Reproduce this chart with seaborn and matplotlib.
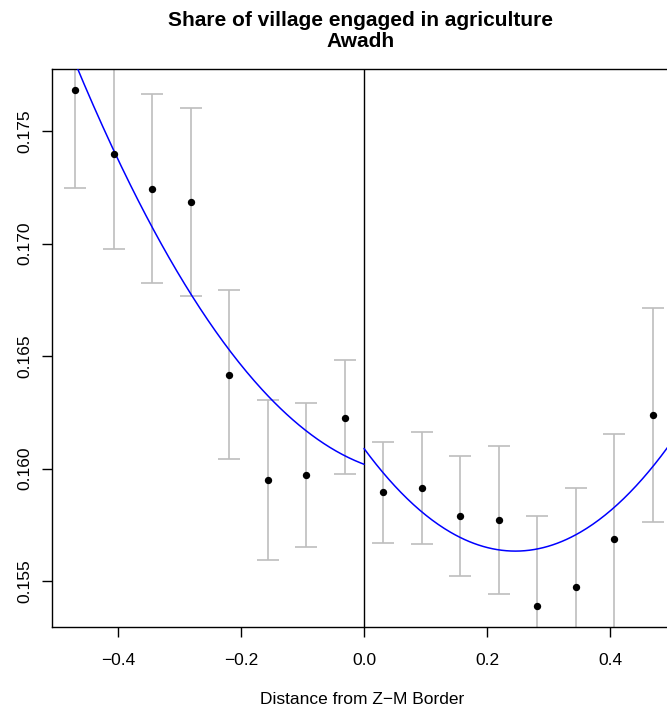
import numpy as np
import pandas as pd
import seaborn as sns
import matplotlib.pyplot as plt

# binned means with 95% intervals
bin_x = [-0.469, -0.406, -0.344, -0.281, -0.219, -0.156, -0.094, -0.031,
         0.031, 0.094, 0.156, 0.219, 0.281, 0.344, 0.406, 0.469]
share_mean = [0.17682, 0.17397, 0.17243, 0.17185, 0.16416, 0.15950, 0.15972, 0.16226,
              0.15895, 0.15913, 0.15791, 0.15771, 0.15389, 0.15474, 0.15686, 0.16239]
ci_low = [0.17247, 0.16975, 0.16824, 0.16767, 0.16043, 0.15595, 0.15652, 0.15975,
          0.15671, 0.15663, 0.15524, 0.15443, 0.14989, 0.15036, 0.15217, 0.15763]
ci_high = [0.18117, 0.17819, 0.17664, 0.17602, 0.16792, 0.16303, 0.16291, 0.16482,
           0.16117, 0.16164, 0.16056, 0.16099, 0.15789, 0.15912, 0.16155, 0.16715]

# quadratic fit coefficients (intercept, linear, squared) on each side of the border
fit_left = [0.16019, -0.01024, 0.05917]
fit_right = [0.16089, -0.03708, 0.07537]

df = pd.DataFrame({"dist": bin_x, "share": share_mean, "lo": ci_low, "hi": ci_high})

sns.set_style("ticks")
plt.rcParams['font.family'] = ['Liberation Sans', 'DejaVu Sans']
plt.rcParams['text.color'] = 'black'
plt.rcParams['axes.labelcolor'] = 'black'

fig = plt.figure(figsize=(6.67, 7.14), dpi=100)
ax = fig.add_axes([0.078, 0.122, 0.93, 0.781])

ax.errorbar(df["dist"], df["share"],
            yerr=[df["share"] - df["lo"], df["hi"] - df["share"]],
            fmt="none", ecolor="#BEBEBE", elinewidth=1.2, capsize=8, capthick=1.2, zorder=2)
sns.scatterplot(data=df, x="dist", y="share", color="black", s=28, edgecolor="black",
                linewidth=0, ax=ax, zorder=4)

xl = np.linspace(-0.5, 0.0, 200)
xr = np.linspace(0.0, 0.5, 200)
yl = fit_left[0] + fit_left[1] * xl + fit_left[2] * xl ** 2
yr = fit_right[0] + fit_right[1] * xr + fit_right[2] * xr ** 2
sns.lineplot(x=xl, y=yl, color="#0000FF", linewidth=1.1, ax=ax, zorder=3)
sns.lineplot(x=xr, y=yr, color="#0000FF", linewidth=1.1, ax=ax, zorder=3)

ax.axvline(0, color="black", linewidth=1.0, zorder=1)

ax.set_xlim(-0.507, 0.501)
ax.set_ylim(0.15296, 0.17775)
ax.set_xticks([-0.4, -0.2, 0.0, 0.2, 0.4])
ax.set_xticklabels(["\u22120.4", "\u22120.2", "0.0", "0.2", "0.4"])
ax.set_yticks([0.155, 0.160, 0.165, 0.170, 0.175])
ax.set_yticklabels(["0.155", "0.160", "0.165", "0.170", "0.175"], rotation=90, va="center")
ax.tick_params(axis="both", labelsize=12.5, length=7, width=1, direction="out", colors="black")
ax.tick_params(axis="x", pad=12)
ax.tick_params(axis="y", pad=7)
for s in ["left", "bottom", "top", "right"]:
    ax.spines[s].set_visible(True)
    ax.spines[s].set_color("black")
    ax.spines[s].set_linewidth(1.0)

ax.set_xlabel("Distance from Z\u2212M Border", fontsize=12.5, labelpad=17, color="black")
ax.set_ylabel("")

fig.text(0.54, 0.985, "Share of village engaged in agriculture\nAwadh", ha="center", va="top",
         fontsize=15, fontweight="bold", linespacing=1.15, color="black")

plt.savefig("out.png", dpi=100)
